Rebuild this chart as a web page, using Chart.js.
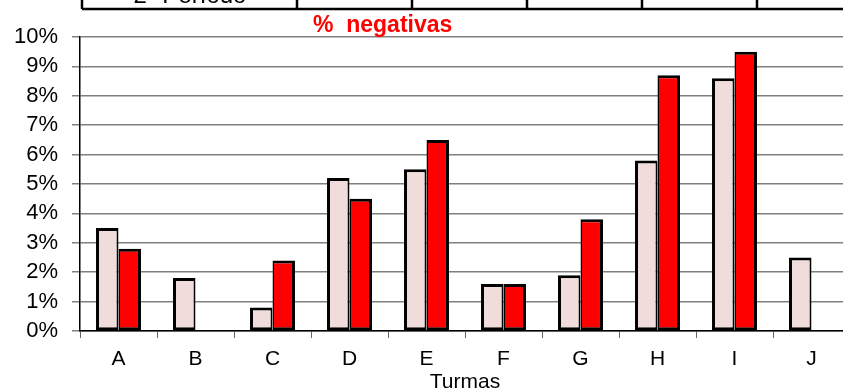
<!DOCTYPE html>
<html>
<head>
<meta charset="utf-8">
<script src="https://cdn.jsdelivr.net/npm/chart.js@4"></script>
<style>
  body { margin: 0; overflow: hidden; background: #fff; }
  #wrap { position: absolute; left: 0; top: 0; width: 860px; height: 390px; }
</style>
</head>
<body>
<div id="wrap"><canvas id="chart"></canvas></div>
<script>
const turmas = ["A", "B", "C", "D", "E", "F", "G", "H", "I", "J"];
// % negativas per class, two periods
const periodo1 = [3.5, 1.8, 0.8, 5.2, 5.5, 1.6, 1.9, 5.8, 8.6, 2.5];
const periodo2 = [2.8, null, 2.4, 4.5, 6.5, 1.6, 3.8, 8.7, 9.5, null];
const yTicks = [0, 1, 2, 3, 4, 5, 6, 7, 8, 9, 10];

const fontFamily = "'Liberation Sans', Arial, sans-serif";

// cut-off table header above the chart plus the red title
const decorations = {
  id: "decorations",
  afterDraw(chart) {
    const ctx = chart.ctx;
    ctx.save();
    ctx.strokeStyle = "#000";
    ctx.lineWidth = 2.5;
    ctx.beginPath();
    ctx.moveTo(82, 9);
    ctx.lineTo(860, 9);
    [82, 297, 412, 527, 642, 757].forEach((x) => {
      ctx.moveTo(x, 0);
      ctx.lineTo(x, 9);
    });
    ctx.stroke();

    ctx.fillStyle = "#000";
    ctx.font = "24px " + fontFamily;
    ctx.textAlign = "center";
    ctx.textBaseline = "alphabetic";
    ctx.fillText("2º Período", 190, 3);

    ctx.fillStyle = "#ff0000";
    ctx.font = "bold 23px " + fontFamily;
    ctx.textAlign = "left";
    ctx.fillText("%  negativas", 313, 32);
    ctx.restore();
  },
};

const ctx = document.getElementById("chart");
new Chart(ctx, {
  type: "bar",
  data: {
    labels: turmas,
    datasets: [
      {
        label: "1º Período",
        data: periodo1,
        backgroundColor: "#f0dcdb",
        borderColor: "#000",
        borderWidth: { top: 3, left: 3, bottom: 3, right: 2 },
        borderSkipped: false,
      },
      {
        label: "2º Período",
        data: periodo2,
        backgroundColor: "#ff0000",
        borderColor: "#000",
        borderWidth: { top: 3, left: 1.5, bottom: 3, right: 3 },
        borderSkipped: false,
      },
    ],
  },
  options: {
    responsive: true,
    maintainAspectRatio: false,
    animation: false,
    layout: {
      padding: { top: 37, right: 10, left: 0, bottom: 0 },
    },
    datasets: {
      bar: {
        categoryPercentage: 0.584,
        barPercentage: 1,
      },
    },
    plugins: {
      legend: { display: false },
      tooltip: { enabled: false },
    },
    scales: {
      x: {
        afterFit: (scale) => {
          scale.height = 59;
        },
        grid: {
          offset: true,
          drawOnChartArea: false,
          tickLength: 7,
          color: "#666",
          lineWidth: 1,
        },
        border: { color: "#000", width: 1.5 },
        ticks: {
          color: "#000",
          padding: 9,
          font: { family: fontFamily, size: 21 },
        },
        title: {
          display: true,
          text: "Turmas",
          color: "#000",
          padding: { top: 0, bottom: -3 },
          font: { family: fontFamily, size: 21, lineHeight: 1 },
        },
      },
      y: {
        min: 0,
        max: 10,
        afterFit: (scale) => {
          scale.width = 80;
        },
        afterBuildTicks: (scale) => {
          scale.ticks = yTicks.map((v) => ({ value: v }));
        },
        grid: {
          color: "#808080",
          lineWidth: 1.5,
          tickLength: 8,
        },
        border: { color: "#000", width: 1.5 },
        ticks: {
          color: "#000",
          padding: 14,
          font: { family: fontFamily, size: 22 },
          callback: (v) => v + "%",
        },
      },
    },
  },
  plugins: [decorations],
});
</script>
</body>
</html>
